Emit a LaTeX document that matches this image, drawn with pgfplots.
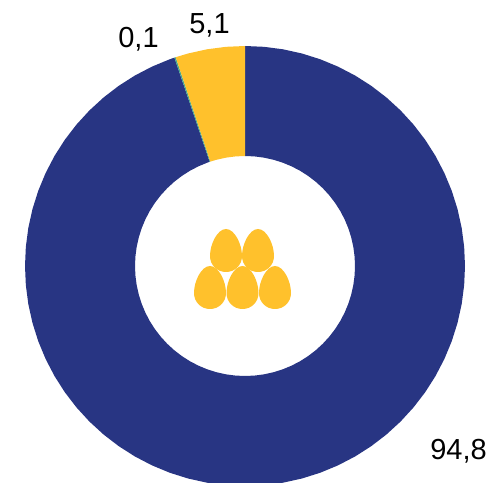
\documentclass[border=0pt]{standalone}
\usepackage{pgfplots}
\pgfplotsset{compat=1.18}
\usepackage{fontspec}
\setmainfont{Liberation Sans}
\definecolor{ringnavy}{HTML}{283583}
\definecolor{ringyellow}{HTML}{FFC12C}
\definecolor{ringteal}{HTML}{45A98C}

% one egg, origin at its tip, sizes in px of the reference
\newcommand{\egg}[2]{%
  \fill[ringyellow,shift={(axis cs:#1,#2)},x=1pt,y=1pt]
    (0,0) .. controls (8.5,0) and (16,-15) .. (16,-27)
    .. controls (16,-36) and (9,-43) .. (0,-43)
    .. controls (-9,-43) and (-16,-36) .. (-16,-27)
    .. controls (-16,-15) and (-8.5,0) .. (0,0) -- cycle;}

\begin{document}
\begin{tikzpicture}
\useasboundingbox (0,0) rectangle (490pt,482pt);
\begin{axis}[
    at={(0,0)},
    anchor=south west,
    scale only axis,
    width=490pt,
    height=482pt,
    hide axis,
    xmin=-245, xmax=245,
    ymin=-216, ymax=266,
    data cs=polar,
    clip=true,
]
% shares 94,8 / 0,1 / 5,1 of 360 deg, clockwise from the top
\addplot[fill=ringnavy,draw=none] coordinates {
(90,220)(85,220)(80,220)(75,220)(70,220)(65,220)(60,220)(55,220)(50,220)(45,220)(40,220)(35,220)
(30,220)(25,220)(20,220)(15,220)(10,220)(5,220)(0,220)(-5,220)(-10,220)(-15,220)(-20,220)(-25,220)
(-30,220)(-35,220)(-40,220)(-45,220)(-50,220)(-55,220)(-60,220)(-65,220)(-70,220)(-75,220)(-80,220)(-85,220)
(-90,220)(-95,220)(-100,220)(-105,220)(-110,220)(-115,220)(-120,220)(-125,220)(-130,220)(-135,220)(-140,220)(-145,220)
(-150,220)(-155,220)(-160,220)(-165,220)(-170,220)(-175,220)(-180,220)(-185,220)(-190,220)(-195,220)(-200,220)(-205,220)
(-210,220)(-215,220)(-220,220)(-225,220)(-230,220)(-235,220)(-240,220)(-245,220)(-250,220)(-251.28,220)
(-251.28,110)(-250,110)(-245,110)(-240,110)(-235,110)(-230,110)(-225,110)(-220,110)(-215,110)(-210,110)
(-205,110)(-200,110)(-195,110)(-190,110)(-185,110)(-180,110)(-175,110)(-170,110)(-165,110)(-160,110)(-155,110)(-150,110)
(-145,110)(-140,110)(-135,110)(-130,110)(-125,110)(-120,110)(-115,110)(-110,110)(-105,110)(-100,110)(-95,110)(-90,110)
(-85,110)(-80,110)(-75,110)(-70,110)(-65,110)(-60,110)(-55,110)(-50,110)(-45,110)(-40,110)(-35,110)(-30,110)
(-25,110)(-20,110)(-15,110)(-10,110)(-5,110)(0,110)(5,110)(10,110)(15,110)(20,110)(25,110)(30,110)
(35,110)(40,110)(45,110)(50,110)(55,110)(60,110)(65,110)(70,110)(75,110)(80,110)(85,110)(90,110)
} -- cycle;
\addplot[fill=ringteal,draw=none] coordinates {
(108.72,220)(108.36,220)(108.36,110)(108.72,110)
} -- cycle;
\addplot[fill=ringyellow,draw=none] coordinates {
(108.36,220)(105,220)(100,220)(95,220)(90,220)
(90,110)(95,110)(100,110)(105,110)(108.36,110)
} -- cycle;

\node[font=\fontsize{29}{29}\selectfont] at (axis cs:213.5,-185) {94,8};
\node[font=\fontsize{29}{29}\selectfont] at (axis cs:-35.5,241) {5,1};
\node[font=\fontsize{29}{29}\selectfont] at (axis cs:-106.5,227) {0,1};

\egg{-19}{37}
\egg{13}{37}
\egg{-35}{0}
\egg{-2.5}{0}
\egg{30}{0}
\end{axis}
\end{tikzpicture}
\end{document}
